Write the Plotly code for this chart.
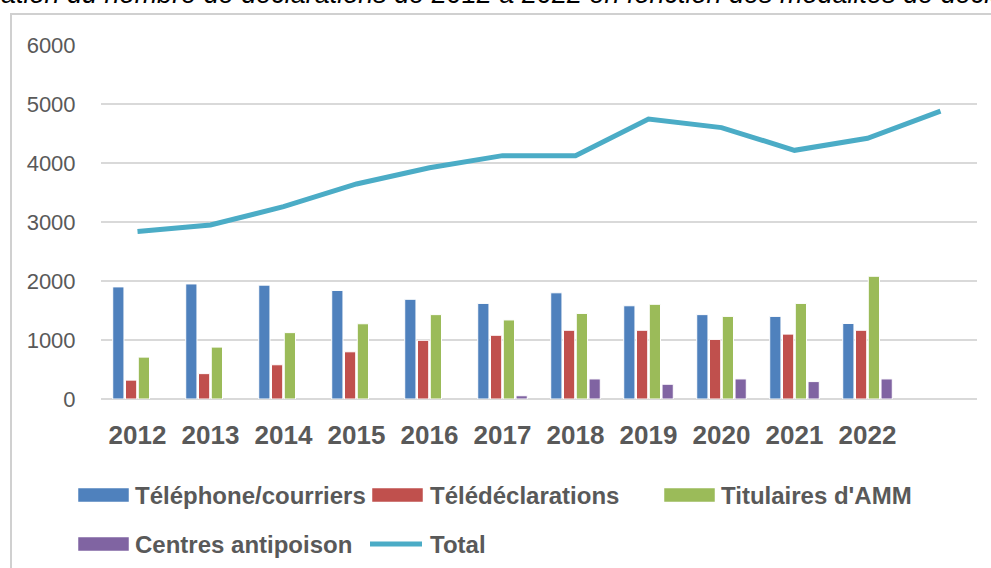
import plotly.graph_objects as go

# ---- data ----
annees = [2012, 2013, 2014, 2015, 2016, 2017, 2018, 2019, 2020, 2021, 2022, 2023]
etiquettes = ["2012", "2013", "2014", "2015", "2016", "2017", "2018", "2019", "2020", "2021", "2022", ""]
telephone = [1900, 1950, 1930, 1840, 1690, 1620, 1800, 1580, 1430, 1400, 1280, None]
teledeclarations = [320, 430, 580, 800, 995, 1080, 1165, 1165, 1010, 1100, 1165, None]
titulaires = [710, 880, 1125, 1275, 1430, 1340, 1450, 1605, 1400, 1620, 2080, None]
antipoison = [None, None, None, None, None, 55, 340, 250, 340, 295, 340, None]
total = [2840, 2950, 3260, 3645, 3920, 4125, 4125, 4745, 4600, 4215, 4420, 4880]
y_ticks = [0, 1000, 2000, 3000, 4000, 5000, 6000]

noms = ["Téléphone/courriers", "Télédéclarations", "Titulaires d'AMM", "Centres antipoison", "Total"]
couleurs = ["#4F81BD", "#C0504D", "#9BBB59", "#8064A2", "#4BACC6"]
titre = "Variation du nombre de déclarations de 2012 à 2022 en fonction des modalités de déclaration"

# ---- geometry ----
W, H = 991, 568
ML, MR, MT, MB = 101, 14, 45, 169
PW, PH = W - ML - MR, H - MT - MB


def px(x):
    return (x - ML) / PW


def py(y):
    return (H - MB - y) / PH


FONT = "Liberation Sans, Arial, sans-serif"
GRIS = "#595959"

fig = go.Figure()
for vals, nom, c in zip([telephone, teledeclarations, titulaires, antipoison], noms[:4], couleurs[:4]):
    fig.add_trace(go.Bar(x=annees, y=vals, name=nom, marker=dict(color=c, line=dict(color="white", width=1)),
                         showlegend=False))
fig.add_trace(go.Scatter(x=annees, y=total, name=noms[4], mode="lines",
                         line=dict(color=couleurs[4], width=5), showlegend=False))

# manual legend (wide Excel-style swatches)
shapes = []
annotations = []
leg = [
    (78, 129, 495, 133, 0, "rect"),
    (372, 423, 495, 428, 1, "rect"),
    (664, 715, 495, 719, 2, "rect"),
    (78, 129, 544, 133, 3, "rect"),
    (370, 422, 544, 428, 4, "line"),
]
for x0, x1, yc, xt, i, kind in leg:
    if kind == "rect":
        shapes.append(dict(type="rect", xref="paper", yref="paper", x0=px(x0), x1=px(x1),
                           y0=py(yc - 7), y1=py(yc + 7), fillcolor=couleurs[i],
                           line=dict(color="white", width=0.5), layer="above"))
    else:
        shapes.append(dict(type="line", xref="paper", yref="paper", x0=px(x0), x1=px(x1),
                           y0=py(yc), y1=py(yc), line=dict(color=couleurs[i], width=5), layer="above"))
    annotations.append(dict(text="<b>" + noms[i] + "</b>", xref="paper", yref="paper", x=px(xt), y=py(yc),
                            xanchor="left", yanchor="middle", showarrow=False,
                            font=dict(family=FONT, size=24, color=GRIS)))

# frame
shapes.append(dict(type="rect", xref="paper", yref="paper", x0=px(11), x1=px(1200), y0=py(14), y1=py(800),
                   line=dict(color="#d0d0d0", width=2), fillcolor="rgba(0,0,0,0)", layer="below"))

# cut title
annotations.append(dict(text="<i>" + titre + "</i>", xref="paper", yref="paper", x=px(-48), y=py(11),
                        xanchor="left", yanchor="bottom", showarrow=False,
                        font=dict(family=FONT, size=27, color="black")))

fig.update_layout(
    width=W, height=H,
    margin=dict(l=ML, r=MR, t=MT, b=MB),
    paper_bgcolor="white", plot_bgcolor="white",
    barmode="group", bargap=0.30, bargroupgap=0.12,
    shapes=shapes, annotations=annotations,
    xaxis=dict(range=[2011.5, 2023.5], tickvals=annees, ticktext=["<b>" + t + "</b>" if t else "" for t in etiquettes],
               showgrid=False, zeroline=False, showline=False,
               ticks="outside", ticklen=13, tickcolor="rgba(0,0,0,0)",
               tickfont=dict(family=FONT, size=26, color=GRIS)),
    yaxis=dict(range=[0, 6000], tickvals=y_ticks, showgrid=True, gridcolor="#d9d9d9", gridwidth=2,
               zeroline=True, zerolinecolor="#d9d9d9", zerolinewidth=2, showline=False,
               ticks="outside", ticklen=20, tickcolor="rgba(0,0,0,0)",
               tickfont=dict(family=FONT, size=22, color=GRIS)),
)

fig.write_html("out.html", config={"displayModeBar": False},
               post_script="document.body.style.margin='0';document.body.style.overflow='hidden';")
